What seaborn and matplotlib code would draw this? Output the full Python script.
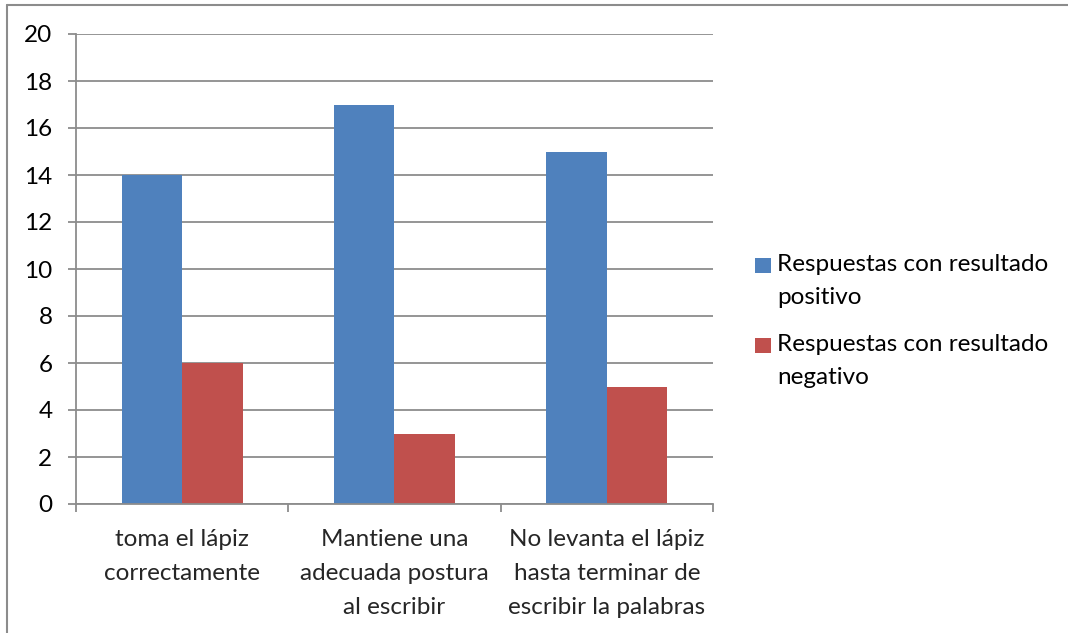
import matplotlib
matplotlib.use("Agg")
import matplotlib.pyplot as plt
import seaborn as sns
import pandas as pd
from matplotlib.patches import Rectangle
from matplotlib.lines import Line2D

categories = ["toma el lápiz\ncorrectamente",
              "Mantiene una\nadecuada postura\nal escribir",
              "No levanta el lápiz\nhasta terminar de\nescribir la palabras"]
series_names = ["Respuestas con resultado\npositivo", "Respuestas con resultado\nnegativo"]
positivo = [14, 17, 15]
negativo = [6, 3, 5]
yticks = [0, 2, 4, 6, 8, 10, 12, 14, 16, 18, 20]
colors = ["#4F81BD", "#C0504D"]

df = pd.DataFrame({
    "cat": categories * 2,
    "serie": [series_names[0]] * 3 + [series_names[1]] * 3,
    "valor": positivo + negativo,
})

sns.set_style("white")
plt.rcParams["font.family"] = ["Lato", "DejaVu Sans"]
FS = 17.5
GRID = "#8C8C8C"
W, H = 1068, 633

fig = plt.figure(figsize=(10.68, 6.33), dpi=100)
ax = fig.add_axes([76 / W, 1 - 504 / H, (713 - 76) / W, (504 - 34) / H])

sns.barplot(data=df, x="cat", y="valor", hue="serie", palette=colors,
            width=0.57, gap=0, ax=ax, legend=False, saturation=1,
            edgecolor="none", linewidth=0)

ax.set_ylim(0, 20)
ax.set_xlim(-0.5, 2.5)
ax.set_yticks(yticks)
ax.set_yticklabels([str(v) for v in yticks], fontsize=FS, color="black")
ax.yaxis.grid(True, color=GRID, linewidth=1.3)
ax.set_axisbelow(True)
ax.set_xlabel("")
ax.set_ylabel("")
for s in ["top", "right"]:
    ax.spines[s].set_visible(False)
for s in ["left", "bottom"]:
    ax.spines[s].set_color(GRID)
    ax.spines[s].set_linewidth(1.3)
ax.tick_params(axis="y", length=6, width=1.3, color=GRID, pad=11, left=True)
ax.set_xticks([0, 1, 2])
ax.set_xticklabels(categories, fontsize=FS, linespacing=1.75)
ax.tick_params(axis="x", length=0, pad=18)
ax.set_xticks([-0.5, 0.5, 1.5, 2.5], minor=True)
ax.tick_params(axis="x", which="minor", length=6, width=1.3, color=GRID, bottom=True)

# legend (Excel style: marker aligned with first line of label)
for i, (name, c) in enumerate(zip(series_names, colors)):
    y_first = 265 + i * 80
    fig.add_artist(Rectangle((755 / W, 1 - (y_first + 7.5) / H), 16 / W, 15 / H,
                             transform=fig.transFigure, facecolor=c, edgecolor="none"))
    fig.text(777 / W, 1 - (y_first + 16) / H, name, fontsize=FS, va="center",
             ha="left", linespacing=1.7, color="black")

fig.add_artist(Line2D([7 / W, 7 / W], [0, 1 - 5 / H], transform=fig.transFigure,
                      color=GRID, linewidth=1.5))
fig.add_artist(Line2D([7 / W, 1], [1 - 5 / H, 1 - 5 / H], transform=fig.transFigure,
                      color=GRID, linewidth=1.5))

fig.savefig("out.png", dpi=100, facecolor="white")
